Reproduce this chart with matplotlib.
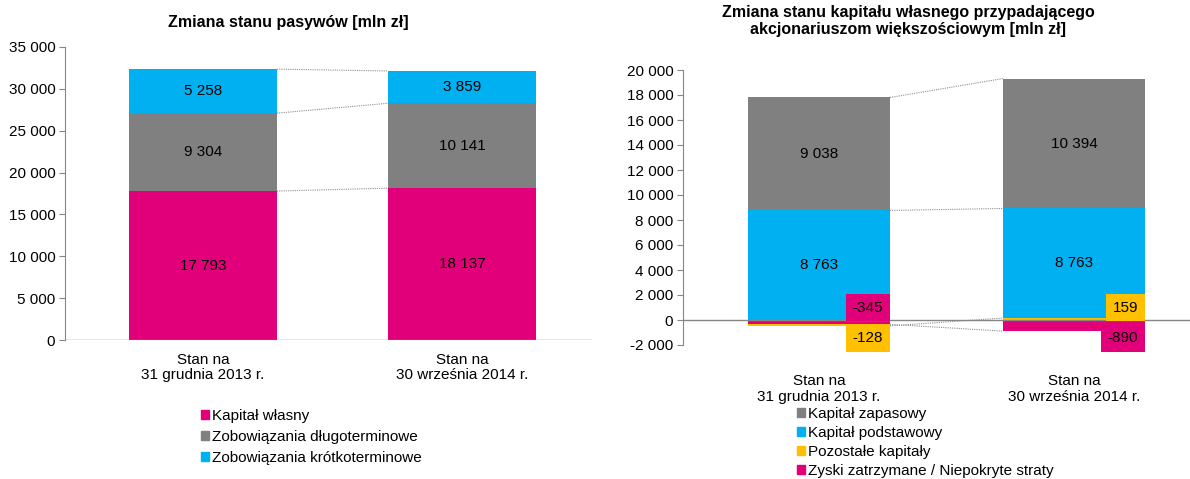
import matplotlib
matplotlib.use('Agg')
import matplotlib.pyplot as plt
from matplotlib.patches import Patch

plt.rcParams['font.family'] = ['Liberation Sans', 'DejaVu Sans']
plt.rcParams['font.size'] = 11

categories = ['Stan na\n31 grudnia 2013 r.', 'Stan na\n30 września 2014 r.']

# Left chart: liabilities
left_series = ['Kapitał własny', 'Zobowiązania długoterminowe', 'Zobowiązania krótkoterminowe']
kapital_wlasny = [17793, 18137]
zob_dlugo = [9304, 10141]
zob_krotko = [5258, 3859]
left_ticks = [0, 5000, 10000, 15000, 20000, 25000, 30000, 35000]

# Right chart: equity (stacking order bottom -> top)
right_series = ['Zyski zatrzymane / Niepokryte straty', 'Pozostałe kapitały',
                'Kapitał podstawowy', 'Kapitał zapasowy']
zyski = [-345, -890]
pozostale = [-128, 159]
podstawowy = [8763, 8763]
zapasowy = [9038, 10394]
right_ticks = [-2000, 0, 2000, 4000, 6000, 8000, 10000, 12000, 14000, 16000, 18000, 20000]

MAGENTA = '#E2007A'
GRAY = '#808080'
BLUE = '#00B0F0'
YELLOW = '#FFC000'
AXC = '#868686'


def fmt(v):
    v = int(round(v))
    s = f'{abs(v):,}'.replace(',', ' ')
    return ('-' if v < 0 else '') + s


W, H = 1190, 479
fig = plt.figure(figsize=(W / 100, H / 100), dpi=100)


def ax_rect(x0, x1, y0, y1):
    return [x0 / W, 1 - y1 / H, (x1 - x0) / W, (y1 - y0) / H]


def stack(ax, series_vals, colors, width):
    n = len(series_vals[0])
    pos = [0.0] * n
    neg = [0.0] * n
    segs = []
    for vals, c in zip(series_vals, colors):
        bottoms = []
        for i, v in enumerate(vals):
            if v >= 0:
                bottoms.append(pos[i]); pos[i] += v
            else:
                bottoms.append(neg[i]); neg[i] += v
        ax.bar(range(n), vals, width=width, bottom=bottoms, color=c, edgecolor='none', zorder=2)
        segs.append([(b, b + v) for b, v in zip(bottoms, vals)])
    return segs


def connectors(ax, segs, width):
    for s in segs:
        ax.plot([0 + width / 2, 1 - width / 2], [s[0][1], s[1][1]], color='#909090',
                lw=0.8, ls=(0, (1, 1)), zorder=1)


def style_axis(ax, ticks):
    for sp in ['top', 'right', 'bottom']:
        ax.spines[sp].set_visible(False)
    ax.spines['left'].set_color(AXC)
    ax.set_yticks(ticks)
    ax.set_yticklabels([fmt(t) for t in ticks])
    ax.tick_params(axis='y', direction='out', length=4, color=AXC, pad=3)
    ax.set_xticks([0, 1])
    ax.set_xticklabels(categories, linespacing=1.15)
    ax.tick_params(axis='x', length=0)


# ---------- Left chart ----------
axL = fig.add_axes(ax_rect(65, 591.5, 47, 340))
wL = 0.571
segsL = stack(axL, [kapital_wlasny, zob_dlugo, zob_krotko], [MAGENTA, GRAY, BLUE], wL)
connectors(axL, segsL, wL)
for segs in segsL:
    for i, (b, t) in enumerate(segs):
        axL.text(i, (b + t) / 2, fmt(t - b), ha='center', va='center', zorder=3)
axL.set_xlim(-0.533, 1.5)
axL.set_ylim(0, 35000)
style_axis(axL, left_ticks)
axL.axhline(0, color=AXC, lw=1, zorder=3)
axL.tick_params(axis='x', pad=9)

# ---------- Right chart ----------
axR = fig.add_axes(ax_rect(683, 1190, 70, 345))
wR = 0.557
colorsR = [MAGENTA, YELLOW, BLUE, GRAY]
segsR = stack(axR, [zyski, pozostale, podstawowy, zapasowy], colorsR, wR)
connectors(axR, segsR, wR)
n = len(categories)
for i in range(n):
    small = []
    for si, segs in enumerate(segsR):
        b, t = segs[i]
        v = t - b
        if abs(v) >= 1000:
            axR.text(i, (b + t) / 2, fmt(v), ha='center', va='center', zorder=3)
        else:
            small.append((max(b, t), si, v))
    # small segments: the highest one labelled above the zero line, the other below
    small.sort(reverse=True)
    for k, (_, si, v) in enumerate(small):
        dy = 9 if k == 0 else -13
        axR.annotate(fmt(v), xy=(i + wR / 2, 0), xytext=(-5, dy), textcoords='offset points',
                     ha='right', va='center', zorder=4,
                     bbox=dict(boxstyle='square,pad=0.45', fc=colorsR[si], ec='none'))
axR.set_xlim(-0.533, 1.455)
axR.set_ylim(-2000, 20000)
style_axis(axR, right_ticks)
axR.axhline(0, color=AXC, lw=1, zorder=3)
axR.tick_params(axis='x', pad=21)

# ---------- Titles ----------
fig.text(288 / W, 1 - 22 / H, 'Zmiana stanu pasywów [mln zł]', ha='center', va='center',
         weight='bold', fontsize=11.5)
fig.text(908 / W, 1 - 21 / H, 'Zmiana stanu kapitału własnego przypadającego\nakcjonariuszom większościowym [mln zł]',
         ha='center', va='center', weight='bold', linespacing=1.15, fontsize=11.5)

# ---------- Legends ----------
hL = [Patch(color=c) for c in [MAGENTA, GRAY, BLUE]]
fig.legend(hL, left_series, loc='upper left', bbox_to_anchor=(201 / W, 1 - 409 / H), frameon=False,
           handlelength=0.55, handleheight=0.55, handletextpad=0.2, labelspacing=0.45,
           borderpad=0, borderaxespad=0)
hR = [Patch(color=c) for c in [GRAY, BLUE, YELLOW, MAGENTA]]
lR = [right_series[3], right_series[2], right_series[1], right_series[0]]
fig.legend(hR, lR, loc='upper left', bbox_to_anchor=(797 / W, 1 - 407 / H), frameon=False,
           handlelength=0.55, handleheight=0.55, handletextpad=0.2, labelspacing=0.32,
           borderpad=0, borderaxespad=0)

fig.savefig('out.png', dpi=100)
